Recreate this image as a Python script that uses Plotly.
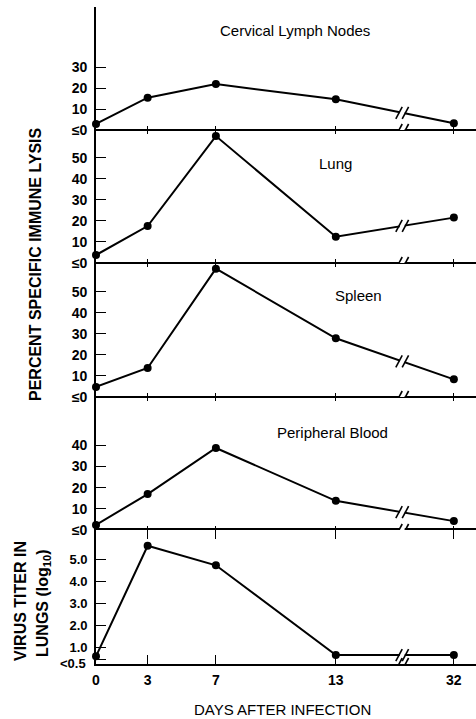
import plotly.graph_objects as go

# ---- data ----
days = [0, 3, 7, 13, 32]
# horizontal placement of each day on the drawn (broken) axis
day_positions = [0, 2.8, 6.5, 13, 19.4]
day_labels = ["0", "3", "7", "13", "32"]
break_position = 16.6

cervical = [2.9, 15.4, 21.9, 14.6, 3.2]
lung = [3.8, 17.6, 60.4, 12.5, 21.6]
spleen = [4.8, 13.8, 61.0, 27.9, 8.4]
blood = [2.4, 17.0, 38.8, 13.8, 4.2]
virus_titer = [0.62, 5.6, 4.72, 0.68, 0.68]

panel_titles = ["Cervical Lymph Nodes", "Lung", "Spleen", "Peripheral Blood", ""]
lysis_ticks_cervical = [0, 10, 20, 30]
lysis_ticks_50 = [0, 10, 20, 30, 40, 50]
lysis_ticks_40 = [0, 10, 20, 30, 40]
lysis_tick_text = ["≤0", "10", "20", "30", "40", "50"]
virus_ticks = [0.5, 1, 2, 3, 4, 5]
virus_tick_text = ["", "1.0", "2.0", "3.0", "4.0", "5.0"]
virus_low_label = "<0.5"

# ---- layout geometry ----
W, H = 476, 719
ML, MR, MT, MB = 96, 0, 7, 55
plot_h = H - MT - MB
panel_px = [(7, 130), (130, 263), (263, 397), (397, 530), (530, 664)]
domains = [[(664 - b) / plot_h, (664 - t) / plot_h] for t, b in panel_px]
domains[-1][0] = 0.0
domains[0][1] = 1.0
y_ranges = [[0, 58.6], [0, 63.3], [0, 63.7], [0, 62.9], [0.275, 6.31]]
x_range = [0, 20.6]

series = [cervical, lung, spleen, blood, virus_titer]
tickvals = [lysis_ticks_cervical, lysis_ticks_50, lysis_ticks_50, lysis_ticks_40, virus_ticks]
ticktexts = [lysis_tick_text[:4], lysis_tick_text, lysis_tick_text, lysis_tick_text[:5], virus_tick_text]

FONT = "Liberation Sans, Arial, Helvetica, sans-serif"

fig = go.Figure()
shapes = []
annotations = []
layout = {}

for i, vals in enumerate(series):
    n = i + 1
    sfx = "" if n == 1 else str(n)
    fig.add_trace(go.Scatter(
        x=day_positions, y=vals, xaxis="x" + sfx, yaxis="y" + sfx,
        mode="lines+markers",
        line=dict(color="black", width=2),
        marker=dict(size=8, color="black"),
        cliponaxis=False, showlegend=False, hoverinfo="skip"))

    bottom = (n == 5)
    layout["xaxis" + sfx] = dict(
        domain=[0, 1], anchor="y" + sfx, range=x_range,
        showline=bottom, linecolor="black", linewidth=1.6,
        ticks="inside", ticklen=9 if bottom else 4, tickwidth=1.4, tickcolor="black",
        tickvals=day_positions if bottom else day_positions[1:],
        ticktext=day_labels if bottom else day_labels[1:],
        showticklabels=bottom,
        tickfont=dict(family=FONT, size=14, color="black", weight="bold"),
        ticklabelstandoff=2,
        mirror="ticks" if n >= 2 else False,
        showgrid=False, zeroline=False, fixedrange=True)
    layout["yaxis" + sfx] = dict(
        domain=domains[i], anchor="x" + sfx, range=y_ranges[i],
        showline=True, linecolor="black", linewidth=1.6,
        ticks="inside", ticklen=10, tickwidth=1.4, tickcolor="black",
        tickvals=tickvals[i], ticktext=ticktexts[i],
        tickfont=dict(family=FONT, size=13 if bottom else 14, color="black", weight="bold"),
        ticklabelstandoff=4,
        showgrid=False,
        zeroline=(n <= 3), zerolinecolor="black", zerolinewidth=1.6,
        fixedrange=True)

    # break marks on the axis line and on the data line
    xr = "x" + sfx
    yr = "y" + sfx
    frac = (break_position - day_positions[3]) / (day_positions[4] - day_positions[3])
    y_data_break = vals[3] + (vals[4] - vals[3]) * frac
    for yb in (y_ranges[i][0], y_data_break):
        shapes.append(dict(type="rect", xref=xr, yref=yr,
                           xsizemode="pixel", ysizemode="pixel",
                           xanchor=break_position, yanchor=yb,
                           x0=-2.5, x1=2.5, y0=-2.5, y1=2.5,
                           fillcolor="white", line=dict(width=0)))
        for off in (-3.2, 3.2):
            shapes.append(dict(type="line", xref=xr, yref=yr,
                               xsizemode="pixel", ysizemode="pixel",
                               xanchor=break_position, yanchor=yb,
                               x0=off - 3.2, x1=off + 3.2, y0=-6, y1=6,
                               line=dict(color="black", width=1.6)))

def px_x(p):
    return (p - ML) / (W - ML - MR)

def px_y(p):
    return (664 - p) / plot_h

title_pos = [(295, 30), (335, 163), (358, 295), (332, 432)]
for (tx, ty), t in zip(title_pos, panel_titles):
    if t:
        annotations.append(dict(text=t, xref="paper", yref="paper", x=px_x(tx), y=px_y(ty),
                                xanchor="center", yanchor="middle", showarrow=False,
                                font=dict(family=FONT, size=15, color="black")))

# lowest virus-titer tick label, nudged down slightly as in the original
annotations.append(dict(text=virus_low_label, xref="paper", yref="y5",
                        x=px_x(88), y=virus_ticks[0], yshift=-4,
                        xanchor="right", yanchor="middle", showarrow=False,
                        font=dict(family=FONT, size=13, color="black", weight="bold")))

annotations.append(dict(text="PERCENT SPECIFIC IMMUNE LYSIS", xref="paper", yref="paper",
                        x=px_x(35), y=px_y(264), textangle=-90, showarrow=False,
                        xanchor="center", yanchor="middle",
                        font=dict(family=FONT, size=16, color="black", weight="bold")))
annotations.append(dict(text="VIRUS TITER IN", xref="paper", yref="paper",
                        x=px_x(20), y=px_y(601), textangle=-90, showarrow=False,
                        xanchor="center", yanchor="middle",
                        font=dict(family=FONT, size=16, color="black", weight="bold")))
annotations.append(dict(text="LUNGS (log<sub>10</sub>)", xref="paper", yref="paper",
                        x=px_x(43), y=px_y(603), textangle=-90, showarrow=False,
                        xanchor="center", yanchor="middle",
                        font=dict(family=FONT, size=16, color="black", weight="bold")))
annotations.append(dict(text="DAYS AFTER INFECTION", xref="paper", yref="paper",
                        x=px_x(282), y=px_y(709), showarrow=False,
                        xanchor="center", yanchor="middle",
                        font=dict(family=FONT, size=15, color="black")))

fig.update_layout(
    width=W, height=H, autosize=False,
    margin=dict(l=ML, r=MR, t=MT, b=MB, pad=0),
    paper_bgcolor="white", plot_bgcolor="white",
    shapes=shapes, annotations=annotations,
    showlegend=False,
    **layout)

fig.write_html("out.html", config={"displayModeBar": False},
               post_script="document.body.style.margin='0';document.body.style.padding='0';")
